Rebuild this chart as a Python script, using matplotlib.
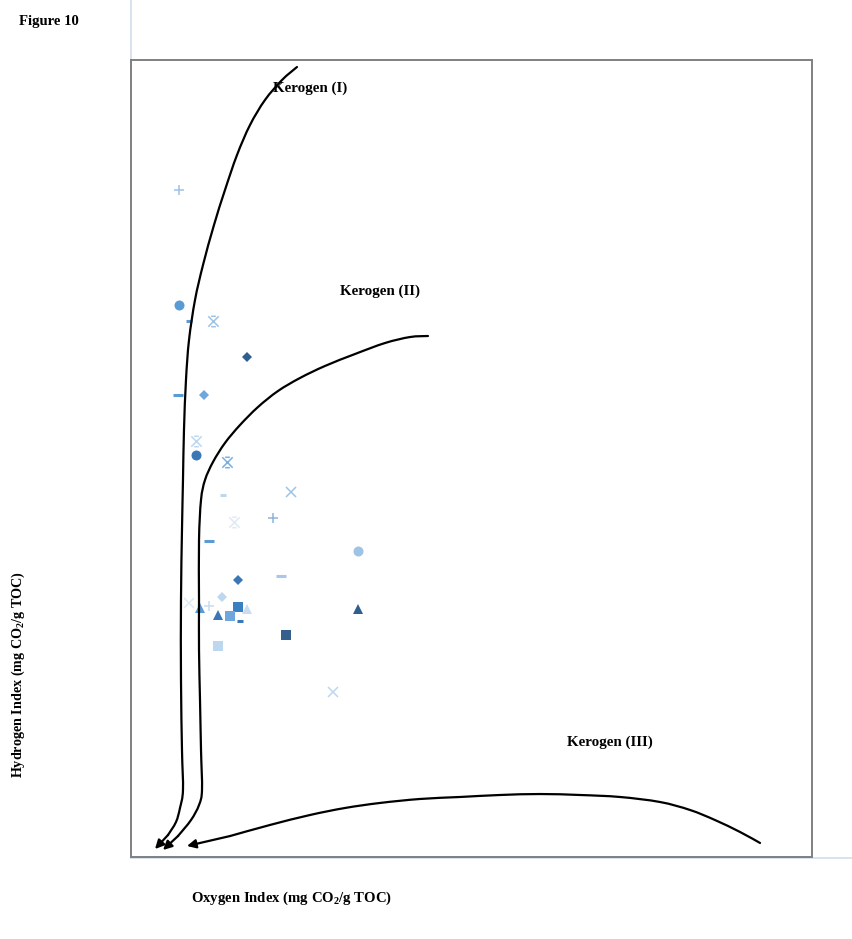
import matplotlib
matplotlib.use("Agg")
import matplotlib.pyplot as plt
from matplotlib.path import Path
from matplotlib.patches import PathPatch
from matplotlib.lines import Line2D

# ---- sample data: Oxygen Index (mg CO2/g TOC) vs Hydrogen Index ----
oi = [10.6, 10.6, 12.8, 18.1, 25.6, 10.4, 16.1, 14.3, 14.3, 21.1,
      20.3, 35.2, 22.7, 31.3, 17.2, 50.0, 33.0, 23.6, 20.0, 12.8,
      15.2, 17.2, 23.6, 25.6, 19.2, 21.8, 24.0, 50.0, 34.1, 19.2, 44.5]
hi = [837, 693, 673, 673, 627, 580, 580, 522, 504, 496,
      454, 458, 420, 425, 396, 384, 353, 348, 326, 319,
      312, 315, 314, 311, 304, 302, 296, 311, 279, 265, 207]
kind = ["plus", "circle", "dash_s", "star", "diamond", "dash", "diamond", "star", "circle", "star",
        "dash_s", "x", "star", "plus", "dash", "circle", "dash", "diamond", "diamond", "x",
        "tri", "plus", "square", "tri", "tri", "square", "dash_s", "tri", "square", "square", "x"]
shade = ["#9dc3e6", "#5b9bd5", "#5b9bd5", "#9dc3e6", "#2f5f8f", "#5b9bd5", "#6fa7dc", "#bdd7ee", "#3a78b5", "#7aaee0",
         "#bdd7ee", "#9dc3e6", "#deebf7", "#8eb4dc", "#5b9bd5", "#9dc3e6", "#a9c7e8", "#3a78b5", "#bdd7ee", "#deebf7",
         "#5b9bd5", "#c9dcf0", "#3a7fc0", "#c9dcf0", "#3a78b5", "#6fa7dc", "#3a78b5", "#2f5f8f", "#355f8c", "#bdd7ee", "#bdd7ee"]

# ---- kerogen evolution pathways ----
k1_oi = [36.56, 33.26, 29.51, 26.21, 23.35, 20.70, 18.28, 15.86, 14.10, 12.78,
         12.11, 11.67, 11.45, 11.23, 11.01, 11.01, 11.23, 11.45, 10.79, 9.91, 8.15, 5.29]
k1_hi = [991.2, 974.9, 949.8, 918.4, 880.8, 836.9, 793.0, 742.8, 698.9, 648.7,
         598.5, 535.8, 473.0, 410.3, 322.5, 222.1, 134.3, 84.1, 61.5, 43.9, 27.6, 10.0]
k2_oi = [65.42, 61.45, 55.95, 49.34, 42.73, 37.22, 32.38, 27.97, 24.01, 20.70,
         18.06, 16.30, 15.42, 14.98, 14.98, 14.98, 15.20, 15.42, 15.64, 14.98,
         13.22, 10.35, 7.05]
k2_hi = [653.7, 652.4, 644.9, 631.1, 616.1, 601.0, 584.7, 564.6, 542.0, 519.5,
         495.6, 473.0, 447.9, 397.7, 322.5, 259.7, 197.0, 134.3, 84.1, 65.2,
         46.4, 26.3, 8.8]
k3_oi = [138.55, 134.14, 128.63, 123.13, 116.52, 107.71, 98.90, 90.09, 81.28, 72.47,
         63.66, 54.84, 47.14, 39.43, 30.62, 21.81, 12.33]
k3_hi = [17.6, 31.4, 46.4, 59.0, 69.0, 75.3, 77.8, 79.0, 77.8, 75.3,
         72.8, 67.8, 61.5, 52.7, 40.2, 26.3, 13.8]

pathways = [("Kerogen (I)", k1_oi, k1_hi, (39.4, 965)),
            ("Kerogen (II)", k2_oi, k2_hi, (54.8, 710)),
            ("Kerogen (III)", k3_oi, k3_hi, (105.5, 144))]

# marker shapes (star = X with short caps top and bottom)
star_path = Path([(-1, -1), (1, 1), (-1, 1), (1, -1), (-0.45, 1), (0.45, 1), (-0.45, -1), (0.45, -1)],
                 [Path.MOVETO, Path.LINETO, Path.MOVETO, Path.LINETO,
                  Path.MOVETO, Path.LINETO, Path.MOVETO, Path.LINETO])
styles = {
    "circle": dict(marker="o", ms=7.2, mew=0),
    "diamond": dict(marker="D", ms=5.2, mew=0),
    "square": dict(marker="s", ms=6.5, mew=0),
    "tri": dict(marker="^", ms=7.0, mew=0),
    "plus": dict(marker="+", ms=7.5, mew=1.1),
    "x": dict(marker="x", ms=7.5, mew=1.1),
    "star": dict(marker=star_path, ms=7.5, mew=1.1),
    "dash": dict(marker="_", ms=7.5, mew=2.2),
    "dash_s": dict(marker="_", ms=4.5, mew=2.2),
}


def smooth_path(xs, ys):
    """Catmull-Rom spline through the given points, as cubic Bezier segments."""
    pts = list(zip(xs, ys))
    verts = [pts[0]]
    codes = [Path.MOVETO]
    n = len(pts)
    for i in range(n - 1):
        p0 = pts[max(i - 1, 0)]
        p1 = pts[i]
        p2 = pts[i + 1]
        p3 = pts[min(i + 2, n - 1)]
        c1 = (p1[0] + (p2[0] - p0[0]) / 6.0, p1[1] + (p2[1] - p0[1]) / 6.0)
        c2 = (p2[0] - (p3[0] - p1[0]) / 6.0, p2[1] - (p3[1] - p1[1]) / 6.0)
        verts += [c1, c2, p2]
        codes += [Path.CURVE4] * 3
    return Path(verts, codes)


plt.rcParams["mathtext.fontset"] = "custom"
plt.rcParams["mathtext.rm"] = "Liberation Serif:bold"
plt.rcParams["mathtext.it"] = "Liberation Serif:bold"
plt.rcParams["mathtext.bf"] = "Liberation Serif:bold"

W, H = 853, 939
fig = plt.figure(figsize=(W / 100, H / 100), dpi=100)
ax = fig.add_axes([131 / W, (H - 857) / H, (812 - 131) / W, (857 - 60) / H])
ax.set_xlim(0, 150)
ax.set_ylim(0, 1000)
ax.set_xticks([])
ax.set_yticks([])
for sp in ax.spines.values():
    sp.set_color("#808080")
    sp.set_linewidth(1.4)

# faint outer axis lines
fig.add_artist(Line2D([131 / W, 131 / W], [(H - 857) / H, 1.0], transform=fig.transFigure,
                      color="#d2deec", lw=1.2, zorder=0))
fig.add_artist(Line2D([131 / W, 1.0], [(H - 858) / H, (H - 858) / H], transform=fig.transFigure,
                      color="#d2deec", lw=1.2, zorder=0))

for x, y, k, c in zip(oi, hi, kind, shade):
    st = styles[k]
    ax.plot([x], [y], linestyle="none", marker=st["marker"], ms=st["ms"],
            mew=st["mew"], color=c, mec=c, mfc=c, zorder=3)

for label, xs, ys, pos in pathways:
    ax.add_patch(PathPatch(smooth_path(xs[:-1], ys[:-1]), facecolor="none", edgecolor="black",
                           lw=1.6, capstyle="round", zorder=4))
    ax.annotate("", xy=(xs[-1], ys[-1]), xytext=(xs[-2], ys[-2]),
                arrowprops=dict(arrowstyle="-|>", color="black", lw=1.6,
                                mutation_scale=13, shrinkA=0, shrinkB=0), zorder=4)
    ax.text(pos[0], pos[1], label, ha="center", va="center", fontsize=10.8,
            fontweight="bold", family="Liberation Serif", zorder=5)

serif = dict(family="Liberation Serif", fontweight="bold")
fig.text(19 / W, 1 - 21 / H, "Figure 10", ha="left", va="center", fontsize=10.6, **serif)
fig.text(292 / W, 1 - 898 / H, "Oxygen Index (mg CO$_2$/g TOC)", ha="center", va="center",
         fontsize=10.6, **serif)
fig.text(18 / W, 1 - 675 / H, "Hydrogen Index (mg CO$_2$/g TOC)", ha="center", va="center",
         rotation=90, fontsize=10.2, **serif)

fig.savefig("out.png", dpi=100)
